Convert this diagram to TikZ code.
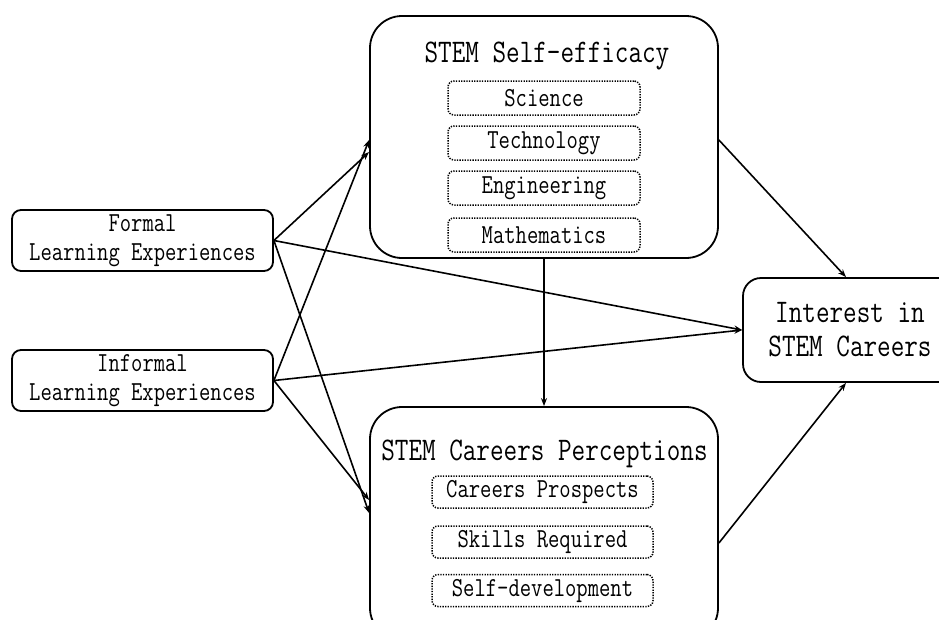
\documentclass[tikz,border=0pt]{standalone}
\usepackage{fontspec}
\usetikzlibrary{arrows.meta}
\newfontfamily\diagfont{Latin Modern Mono}[FakeStretch=0.80]
\begin{document}
\begin{tikzpicture}[x=1pt,y=-1pt,
  box/.style={draw,line width=1.8pt,rounded corners=9pt,align=center,inner sep=0pt},
  bigbox/.style={draw,line width=1.8pt,rounded corners=32pt,inner sep=0pt},
  dotbox/.style={draw,line width=1.5pt,dash pattern=on 1.3pt off 1.3pt,rounded corners=6pt,inner sep=0pt},
  small/.style={font=\diagfont\fontsize{27.5}{29}\selectfont},
  large/.style={font=\diagfont\fontsize{33}{34}\selectfont},
  arr/.style={line width=1.6pt,-{Stealth[length=8pt,width=6pt]}}]
\useasboundingbox (0,0) rectangle (939,619);
\clip (0,0) rectangle (939,619);
% left boxes
\node[box,small,minimum width=261pt,minimum height=61pt] (formal) at (142.5,240.5) {Formal\\Learning Experiences};
\node[box,small,minimum width=261pt,minimum height=61pt] (informal) at (142.5,380.5) {Informal\\Learning Experiences};
% self-efficacy
\node[bigbox,minimum width=348pt,minimum height=242pt] (se) at (544,137) {};
\node[large,anchor=base] (setitle) at (547,62) {STEM Self-efficacy};
\node[dotbox,small,minimum width=192pt,minimum height=34pt] (sci) at (544,98) {Science};
\node[dotbox,small,minimum width=192pt,minimum height=34pt] (tech) at (544,143) {Technology};
\node[dotbox,small,minimum width=192pt,minimum height=34pt] (eng) at (544,188) {Engineering};
\node[dotbox,small,minimum width=192pt,minimum height=34pt] (math) at (544,235) {Mathematics};
% careers perceptions
\node[bigbox,minimum width=348pt,minimum height=233pt] (cp) at (544,523.5) {};
\node[large,anchor=base] (cptitle) at (544.5,460) {STEM Careers Perceptions};
\node[dotbox,small,minimum width=221pt,minimum height=32pt] (pros) at (542.5,492) {Careers Prospects};
\node[dotbox,small,minimum width=221pt,minimum height=32pt] (skill) at (542.5,542) {Skills Required};
\node[dotbox,small,minimum width=221pt,minimum height=32pt] (dev) at (542.5,590.5) {Self-development};
% interest
\node[box,large,rounded corners=18pt,minimum width=214pt,minimum height=104pt] (int) at (850,330) {Interest in\\STEM Careers};
% arrows
\draw[arr] (formal.east) -- ([yshift=-15pt]se.west);
\draw[arr] (informal.east) -- ([yshift=-3pt]se.west);
\draw[arr] (formal.east) -- (int.west);
\draw[arr] (informal.east) -- (int.west);
\draw[arr] (formal.east) -- ([yshift=10.5pt]cp.west);
\draw[arr] (informal.east) -- ([yshift=23.5pt]cp.west);
\draw[arr] (se.south) -- (cp.north);
\draw[arr] ([yshift=-3pt]se.east) -- ([xshift=-4pt]int.north);
\draw[arr] ([yshift=-19.5pt]cp.east) -- ([xshift=-4pt]int.south);
\end{tikzpicture}
\end{document}
